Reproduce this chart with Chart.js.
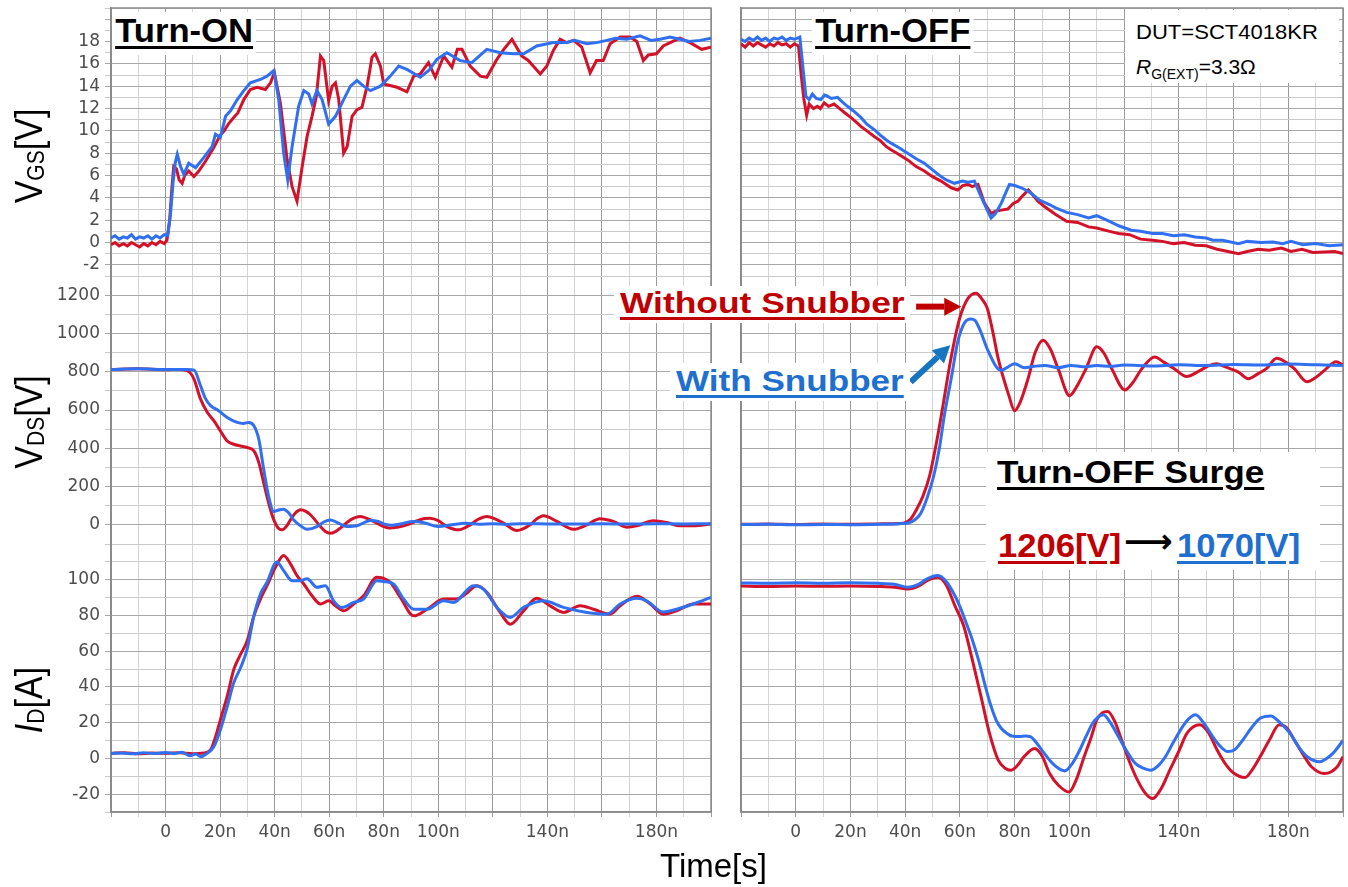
<!DOCTYPE html>
<html lang="en">
<head>
<meta charset="UTF-8">
<title>SCT4018KR switching waveforms, with and without snubber</title>
<script src="https://cdn.jsdelivr.net/npm/chart.js"></script>
<style>
  body { margin: 0; background: #fff; }
  #page { position: relative; width: 1348px; height: 887px; overflow: hidden;
          font-family: "Liberation Sans", Arial, sans-serif; color: #000; }
  .panel { position: absolute; top: 0; height: 887px; }
  #onBox { left: 0; width: 720px; }
  #offBox { left: 730px; width: 618px; }
  .lbl { position: absolute; white-space: nowrap; line-height: 1; }
  .bold { font-weight: bold; }
  .ul { text-decoration: underline; text-decoration-thickness: 2.5px; text-underline-offset: 4px; }
  .box { position: absolute; background: #fff; }
  .ytitle { position: absolute; font-size: 34px; line-height: 1; white-space: nowrap;
            transform: translate(-50%, -50%) rotate(-90deg) scaleY(1.15); }
  .sub { font-size: 0.62em; position: relative; top: 0.08em; }
  .red { color: #c00000; }
  .blue { color: #1f6fcf; }
</style>
</head>
<body>
<div id="page">
  <div class="panel" id="onBox"><canvas id="onChart"></canvas></div>
  <div class="panel" id="offBox"><canvas id="offChart"></canvas></div>

  <!-- axis titles -->
  <div class="ytitle" style="left:28px;top:156px">V<span class="sub">GS</span>[V]</div>
  <div class="ytitle" style="left:28px;top:422px">V<span class="sub">DS</span>[V]</div>
  <div class="ytitle" style="left:28px;top:700px"><i>I</i><span class="sub">D</span>[A]</div>
  <div class="lbl" style="left:660px;top:849px;font-size:33px">Time[s]</div>

  <!-- panel headers -->
  <div class="lbl bold ul" style="left:112px;top:12px;font-size:33px;background:#fff;padding:2px 3px 8px;transform:scaleX(1.05);transform-origin:left">Turn-ON</div>
  <div class="lbl bold ul" style="left:812px;top:12px;font-size:33px;background:#fff;padding:2px 3px 8px;transform:scaleX(1.05);transform-origin:left">Turn-OFF</div>

  <div class="box" style="left:1125px;top:10px;width:214px;height:73px"></div>
  <div class="lbl" style="left:1136px;top:21px;font-size:21px;transform:scaleX(1.05);transform-origin:left">DUT=SCT4018KR</div>
  <div class="lbl" style="left:1136px;top:56px;font-size:21px"><i>R</i><span style="font-size:14px;position:relative;top:5px">G(EXT)</span>=3.3Ω</div>

  <!-- series labels -->
  <div class="box" style="left:614px;top:286px;width:296px;height:37px"></div>
  <div class="lbl bold ul red" style="left:620px;top:289px;font-size:29px;transform:scaleX(1.22);transform-origin:left">Without Snubber</div>
  <div class="box" style="left:670px;top:363px;width:240px;height:38px"></div>
  <div class="lbl bold ul blue" style="left:676px;top:367px;font-size:29px;transform:scaleX(1.21);transform-origin:left">With Snubber</div>

  <!-- surge summary -->
  <div class="box" style="left:986px;top:452px;width:334px;height:118px"></div>
  <div class="lbl bold ul" style="left:997px;top:456px;font-size:32px;transform:scaleX(1.1);transform-origin:left">Turn-OFF Surge</div>
  <div class="lbl bold ul red" style="left:998px;top:529px;font-size:33px;transform:scaleX(1.05);transform-origin:left">1206[V]</div>
  <div class="lbl bold" style="left:1124px;top:524px;font-size:34px;font-family:'DejaVu Sans'">⟶</div>
  <div class="lbl bold ul blue" style="left:1177px;top:529px;font-size:33px;transform:scaleX(1.05);transform-origin:left">1070[V]</div>
</div>

<script>
const timeLabels = [0, 20, 40, 60, 80, 100, 140, 180];
const vgsLabels = [-2, 0, 2, 4, 6, 8, 10, 12, 14, 16, 18];
const vdsLabels = [0, 200, 400, 600, 800, 1000, 1200];
const idLabels = [-20, 0, 20, 40, 60, 80, 100];

// Turn-ON
const onVgsWithout = [[-20,-0.2],[-18.5,0.0],[-17,-0.3],[-15.5,-0.1],[-14,-0.3],[-12.5,0.0],[-11,-0.2],[-9.5,-0.4],[-8,-0.1],[-6.5,-0.3],[-5,0.0],[-3.5,-0.2],[-2,0.1],[-0.5,-0.1],[0.5,0.2],[1.5,2.0],[2.3,4.8],[3,6.8],[4,6.6],[5,5.6],[6.1,5.3],[7,6.0],[8.5,6.4],[10.4,5.9],[12.2,6.4],[14.7,7.3],[17.7,8.5],[20,9.6],[21.5,10.0],[23,10.6],[25,11.2],[26.5,11.6],[28.7,12.8],[31.1,13.7],[33.6,13.9],[36.6,13.7],[38.5,14.3],[39.9,15.2],[42.1,12.5],[44.6,7.4],[46.4,5.0],[48.2,3.7],[50.1,6.8],[51.9,9.5],[53.7,11.3],[55.3,13.1],[56.8,16.7],[58,16.3],[59.8,12.7],[61.1,14.0],[62.3,14.3],[63.5,12.8],[65.3,8.0],[66.6,8.6],[68.4,11.3],[70.2,11.9],[72,12.1],[73.9,14.0],[75.7,16.6],[76.9,16.9],[78.8,15.8],[80,14.2],[84.9,13.9],[88.5,13.5],[91,14.9],[93.4,15.1],[96.4,16.1],[98.9,14.8],[102,16.7],[105,15.7],[107,17.3],[108.7,17.3],[111.7,15.8],[115.4,14.9],[117.8,14.8],[121.5,16.4],[124,17.3],[127,18.2],[130.6,16.7],[133,16.3],[137.4,15.1],[139.8,15.8],[142.2,17.2],[144.7,18.2],[147,17.9],[149.6,18.1],[152.6,17.5],[155.7,15.2],[158,16.3],[160.5,16.3],[163,17.8],[166.7,18.4],[170.3,18.4],[172.8,18.0],[175.2,16.3],[177,16.8],[180,16.9],[182.5,17.6],[185,17.9],[188.6,18.3],[192.3,17.9],[196.6,17.3],[200,17.5]];
const onVgsWith = [[-20,0.4],[-18.5,0.6],[-17,0.3],[-15.5,0.5],[-14,0.4],[-12.5,0.7],[-11,0.3],[-9.5,0.5],[-8,0.4],[-6.5,0.6],[-5,0.3],[-3.5,0.6],[-2,0.4],[-0.5,0.7],[0.8,0.6],[1.8,2.5],[2.8,5.5],[3.6,7.2],[4.3,7.9],[5.5,6.8],[6.7,6.1],[8.5,7.1],[11,6.7],[14,7.6],[17.1,8.6],[18.3,9.7],[20.1,9.4],[22,11.3],[23.8,11.8],[26.3,12.8],[28.7,13.6],[31.1,14.3],[34.8,14.6],[37.2,14.9],[39.7,15.4],[41.5,12.8],[43.3,8.0],[44.8,5.6],[46.4,8.6],[48.8,12.2],[50.7,13.6],[52.5,13.3],[53.7,12.4],[55.5,13.6],[57.4,12.8],[59.8,10.6],[62.3,11.3],[65.3,12.8],[67.8,14.0],[70.2,14.5],[72.6,14.0],[75.1,13.6],[78.8,14.0],[82.4,14.9],[85.5,15.8],[88.5,15.5],[93.4,14.8],[96.5,15.4],[99.5,16.4],[103.2,17.0],[108,16.3],[112.3,16.1],[117.8,17.3],[122.7,17.0],[127.6,16.9],[131.3,16.9],[136.1,17.6],[142.2,17.9],[147.1,17.9],[150,18.1],[154.5,17.8],[158,17.9],[161.8,18.1],[165,18.3],[169.1,18.2],[174,18.5],[178,18.1],[181.3,18.2],[185,18.4],[188.6,18.2],[192,18.0],[196,18.1],[200,18.3]];
const onVdsWithout = [[-20,812],[-10,815],[0,810],[5,812],[8,805],[10.4,763],[12.8,658],[15.3,588],[17.7,544],[20.1,491],[22.6,438],[25,421],[27.5,412],[29.9,404],[32.4,386],[34.2,325],[36,219],[37.8,114],[39.7,26],[41.2,-15],[42.7,-26],[44.2,-10],[45.8,26],[47.6,62],[49.5,79],[51.3,72],[53.1,53],[56.8,-9],[58.6,-35],[60.4,-44],[62.3,-35],[64.1,-17],[67.8,26],[71.4,44],[75.1,26],[80,-9],[82.4,-17],[85,-12],[88.5,0],[92,20],[95,33],[97,35],[100,22],[103.2,-9],[107.4,-26],[111.7,0],[114.5,28],[117.8,44],[121,30],[124,9],[128.8,-30],[133.7,0],[136,30],[138.6,47],[143.5,18],[149.6,-23],[154.5,0],[159.3,32],[164.2,18],[169.1,-12],[172.8,-5],[178.9,21],[183.8,12],[188.6,-5],[193.5,-5],[200,5]];
const onVdsWith = [[-20,812],[-10,815],[0,812],[8,812],[10.5,808],[12.8,728],[14.7,658],[16.5,623],[19.5,596],[22.6,561],[26.3,535],[28.5,530],[30.5,535],[32.4,518],[34.2,447],[36,289],[37.8,149],[39.7,70],[41.5,78],[43.3,82],[45,65],[47,26],[49.5,-5],[51.9,-23],[55.5,-9],[58,15],[60.4,26],[63,12],[66.5,-9],[70.2,-5],[75.1,23],[78,18],[80,5],[83,-2],[86,5],[91,18],[95,10],[100,-9],[105,0],[110,8],[115,3],[120,6],[125,2],[130,6],[140,5],[150,4],[160,6],[170,4],[180,6],[190,5],[200,6]];
const onIdWithout = [[-20,2.8],[-15,3.2],[-10,2.6],[-5,3.0],[0,2.9],[5,3.1],[10,2.6],[14,3.0],[16.5,4.7],[18.3,12],[20.1,21.6],[22.6,34.7],[25,49.7],[27.5,58.2],[29.9,65.7],[32.4,79.8],[34.8,89.2],[37.2,96.7],[40.3,107],[43.3,113.6],[45.8,108.9],[48.2,102.3],[50.7,97.6],[53.7,91],[56.8,86.4],[59.8,88.2],[62.3,85.4],[65.3,82.6],[69,86.4],[72.6,91],[77.5,101.4],[79.5,101],[82.4,98.6],[86.1,90.1],[91,79.8],[95.9,83.5],[102,89.2],[106.8,89.2],[110,92],[114.2,96.7],[117.8,93],[122.7,81.7],[126.4,75.1],[131.3,82.6],[136.1,89.6],[141,85.4],[145.9,81.7],[152,85.4],[156.9,83.5],[163,80.7],[166.7,85.4],[172.8,90.7],[177.7,86.4],[182.5,80.7],[187.4,82.6],[193.5,86.4],[200,86.4]];
const onIdWith = [[-20,2.8],[-16,3.0],[-12,2.6],[-8,3.2],[-4,2.7],[0,3.3],[3,2.8],[6,3.4],[9,1.5],[11,2.4],[13,1.0],[15,2.6],[17.7,6.5],[20.1,16],[22.6,29],[25,42.3],[27.5,50.7],[29.9,61],[32.4,79.8],[34.8,92],[37.2,98.6],[40.8,109.9],[43.3,105.1],[46.4,99.5],[49.5,99.5],[51.9,100.5],[55.5,95.8],[58.6,96.7],[61.6,88.2],[64.7,84.5],[69,87.3],[72.6,89.2],[77.5,99.5],[80,99],[83.6,97.6],[87.3,89.2],[91,83.5],[95.9,83.5],[102,88.2],[105.6,87.3],[112.9,96.7],[116.6,94.8],[121.5,84.5],[126.4,78.9],[131.3,84.5],[138.6,88.2],[145.9,84.5],[154.5,81.7],[161.8,80.7],[166.7,86.4],[172.8,89.6],[176.4,88.2],[182.5,82],[187.4,83.5],[193.5,86.4],[200,90.1]];

// Turn-OFF
const offVgsWithout = [[-20,17.8],[-18.5,17.5],[-17,17.9],[-15.5,17.6],[-14,17.9],[-12.5,17.7],[-11,17.5],[-9.5,17.8],[-8,17.6],[-6.5,17.9],[-5,17.7],[-3.5,17.8],[-2,17.5],[-0.5,17.8],[1,17.6],[2,15],[3,12.8],[4,11.4],[4.9,12.4],[6.5,12.0],[7.9,12.2],[9,12.0],[10.4,12.5],[12,12.2],[14,12.4],[16.5,11.9],[18,11.6],[20.1,11.2],[22,10.8],[23.8,10.4],[26,10.0],[28.7,9.5],[31,9.1],[33,8.6],[34.8,8.3],[37,8.0],[40.9,7.4],[44,6.8],[47,6.4],[50,5.9],[53.1,5.5],[56.8,4.9],[59.2,4.7],[61,5.1],[62.9,5.2],[64.5,5.0],[66.6,5.2],[69,3.5],[71.4,2.6],[73,2.8],[75.1,2.9],[77.5,3.0],[79.5,3.5],[81.2,3.7],[83,4.2],[85,4.7],[86.5,4.3],[88.5,3.7],[91,3.2],[95,2.5],[99,1.9],[103,1.8],[107,1.4],[110,1.3],[114.7,1.0],[118,0.8],[122,0.7],[126,0.3],[130.4,0.2],[134,0.1],[138,-0.1],[142,0.0],[146,-0.25],[150,-0.3],[154,-0.6],[158,-0.8],[161.8,-1.0],[165,-0.8],[169,-0.6],[173,-0.7],[177.5,-0.5],[181,-0.8],[185,-0.6],[189,-0.9],[193,-0.85],[197,-0.8],[200,-1.0]];
const offVgsWith = [[-20,18.2],[-18.5,18.0],[-17,18.3],[-15.5,18.1],[-14,18.4],[-12.5,18.1],[-11,18.3],[-9.5,18.0],[-8,18.3],[-6.5,18.2],[-5,18.4],[-3.5,18.1],[-2,18.3],[-0.5,18.2],[1.5,18.4],[2.5,16],[3.7,13.1],[4.9,12.8],[6.1,13.3],[7.5,12.9],[9.2,12.8],[10.5,13.2],[11.6,13.1],[13,12.9],[15.3,13.0],[17,12.6],[18.9,12.2],[21,11.8],[23.8,11.2],[26,10.6],[28.7,10.1],[31,9.6],[33,9.2],[34.8,8.9],[37,8.6],[40.9,8.0],[44,7.5],[47,7.1],[50,6.5],[53.1,5.9],[55,5.6],[58,5.3],[61,5.5],[63,5.4],[65.3,5.5],[67.2,4.4],[70.2,2.8],[71.4,2.2],[73,2.6],[75.1,3.5],[77,4.6],[78.1,5.2],[80,5.1],[82.4,4.9],[84,4.7],[86.1,4.4],[89.1,3.8],[92.7,3.4],[95,3.1],[99,2.7],[103,2.5],[107,2.2],[110,2.4],[114.7,1.9],[118,1.5],[122.6,1.1],[126,1.0],[130.4,0.8],[134,0.8],[138,0.6],[142,0.7],[146,0.5],[150,0.4],[152.4,0.2],[156,0.2],[161.8,-0.1],[165,0.1],[170,0.0],[174.4,0.05],[178,-0.1],[181,0.1],[185.4,-0.2],[190,-0.1],[195,-0.3],[200,-0.2]];
const offVdsWithout = [[-20,3],[-10,5],[0,2],[10,4],[20,3],[30,5],[35,6],[39.4,9],[42,30],[44.1,79],[46.5,150],[48.9,254],[51.3,420],[53.6,605],[56.7,868],[59.9,1079],[63,1184],[65.9,1210],[68,1180],[70,1132],[72,1010],[74,868],[77.9,675],[80,596],[82,640],[84.9,763],[87.5,900],[90.4,965],[93,920],[95.9,816],[100.1,675],[103,730],[106.1,816],[110,930],[112.5,900],[115.5,816],[120.3,705],[123,740],[126.5,816],[131.2,877],[134.5,850],[138.3,816],[142.9,775],[147,800],[150.8,830],[153.8,842],[157,825],[161.8,798],[165.4,763],[169,790],[172,816],[175.8,870],[179,850],[182.2,816],[186.8,748],[190,770],[193.2,807],[197.5,852],[200,835]];
const offVdsWith = [[-20,2],[-10,3],[0,0],[10,2],[20,1],[30,3],[38,6],[42.5,17],[45.7,61],[48,140],[50.4,254],[52.5,400],[54.3,570],[56.8,763],[59.2,956],[61.6,1053],[64,1075],[65.5,1068],[67.1,1026],[70.2,912],[73.3,825],[75.1,807],[77,820],[80,842],[83.6,821],[87,828],[91,833],[95.9,821],[100.7,833],[105,826],[110,832],[115,828],[120,835],[130,830],[140,836],[150,832],[160,838],[170,835],[180,840],[190,836],[200,833]];
const offIdWithout = [[-20,96.5],[-10,96.2],[0,96.5],[10,96.3],[20,96.5],[30,96.2],[36,95.8],[41,94.8],[45,96.5],[48,99.5],[52,101.4],[55,97],[58.2,85.4],[61.4,74.1],[64.5,55.4],[67.7,34.7],[70.8,14.1],[74,-1],[76.5,-5.5],[78.7,-6.6],[81,-4],[83.4,0.9],[87.3,5.6],[90,1.5],[92.8,-8.5],[96,-15],[99.9,-18.8],[102.5,-12],[105.4,0.9],[108,12],[110,21.6],[112,25.5],[114,26.3],[116.5,21],[119.5,8.5],[122,-2],[124.9,-12.2],[127.5,-19],[130.4,-22.5],[133.5,-17],[136.7,-6.6],[140,4],[143,14.1],[147.7,18.8],[151,14],[154,4.7],[157,-3],[160.3,-8.5],[164.2,-10.7],[167,-6],[169.7,0.9],[173,10],[176.7,18.8],[179.5,17],[182.2,10.3],[185.5,2],[188.5,-4.7],[193.2,-8.5],[197.9,-4.7],[200,1]];
const offIdWith = [[-20,98.2],[-10,98],[0,98.3],[10,98.1],[20,98.3],[30,98.0],[36,97.5],[41,95.8],[45,97.5],[48,100.5],[52,102.3],[55,99],[57.5,93],[59.9,85.4],[62,77],[64.5,66.6],[67,54],[69.3,40.3],[71,31],[73.2,21.6],[75,17],[77.1,14.1],[79,12.5],[81.8,12.2],[84,12.5],[85.7,12.2],[88.1,8.5],[90.5,3.5],[92.8,-1],[95.5,-5],[98.3,-7],[101,-3],[103.8,4.7],[106,12],[108.5,19.7],[110.5,23],[112.4,24.4],[115,20],[117.9,12.2],[121,4],[124.1,-2.8],[127,-5.5],[129.7,-6.6],[132.5,-4],[135.1,0.9],[138,9],[141.4,17.8],[143.5,22],[146.1,24.4],[149,20],[152.4,12.2],[155,7],[157.9,3.8],[160.5,5],[163.4,10.3],[166.5,17],[169.7,22.5],[173.6,23.8],[177,20],[180.6,14.1],[184,6],[186.9,0.9],[191.6,-1.9],[194,0],[196.3,2.8],[200,10]];

// arrows next to the series labels, in (ns, V) of the turn-off VDS axis
const arrowNotes = [
  { from: [44, 1140], to: [60.5, 1140], color: '#c00000' },
  { from: [42, 746], to: [56.5, 938], color: '#1775c0' }
];

const RED = '#d3122a';
const BLUE = '#2f6ff0';
const TICK_FONT = { family: 'DejaVu Sans', size: 17 };
const TICK_COLOR = '#4d4d4d';

Chart.defaults.font.family = 'DejaVu Sans';

const toPts = pairs => pairs.map(([x, y]) => ({ x, y }));

function traces(axis, without, withS, smooth) {
  const common = { yAxisID: axis, borderWidth: 3, pointRadius: 0, fill: false,
                   cubicInterpolationMode: smooth ? 'monotone' : 'default', tension: 0 };
  return [
    { ...common, label: 'Without Snubber', data: toPts(without), borderColor: RED, order: 1 },
    { ...common, label: 'With Snubber', data: toPts(withS), borderColor: BLUE, order: 0 }
  ];
}

function steps(min, max, step) {
  const out = [];
  for (let v = min; v <= max + 1e-9; v += step) out.push(Math.round(v * 1000) / 1000);
  return out;
}

function yAxis(min, max, step, labels, showLabels) {
  return {
    type: 'linear', position: 'left', stack: 'panel', stackWeight: 1,
    min, max,
    afterBuildTicks: s => { s.ticks = steps(min, max, step).map(v => ({ value: v })); },
    afterFit: s => { s.width = showLabels ? 111 : 11; s.paddingTop = 0; s.paddingBottom = 0; },
    ticks: {
      display: showLabels, autoSkip: false, padding: 5, font: TICK_FONT, color: TICK_COLOR,
      callback: v => labels.includes(v) ? String(v) : ''
    },
    grid: {
      color: c => labels.includes(c.tick.value) || c.tick.value % (2 * step) === 0 ? '#a8a8a8' : '#cacaca',
      drawTicks: showLabels, tickLength: 6, lineWidth: 1
    },
    border: { color: '#8a8a8a', width: 1.5 }
  };
}

const xAxis = {
  type: 'linear', min: -20, max: 200,
  afterBuildTicks: s => { s.ticks = steps(-20, 200, 10).map(v => ({ value: v })); },
  afterFit: s => { s.height = 75; s.paddingLeft = 0; s.paddingRight = 0; },
  ticks: {
    autoSkip: false, maxRotation: 0, padding: 5, font: TICK_FONT, color: TICK_COLOR,
    callback: v => timeLabels.includes(v) ? (v === 0 ? '0' : v + 'n') : ''
  },
  grid: { color: c => c.tick.value % 20 === 0 ? '#9a9a9a' : '#d4d4d4', tickLength: 5, lineWidth: 1 },
  border: { color: '#8a8a8a', width: 1.5 }
};

// grey frame round the plot area
const frame = {
  id: 'frame',
  beforeDatasetsDraw(chart) {
    const { ctx, chartArea: a } = chart;
    ctx.save();
    ctx.strokeStyle = '#8a8a8a';
    ctx.lineWidth = 1.5;
    ctx.strokeRect(a.left, a.top, a.width, a.height);
    ctx.restore();
  }
};

const arrows = {
  id: 'arrows',
  afterDatasetsDraw(chart) {
    const { ctx, scales } = chart;
    for (const n of arrowNotes) {
      const x0 = scales.x.getPixelForValue(n.from[0]), y0 = scales.yD.getPixelForValue(n.from[1]);
      const x1 = scales.x.getPixelForValue(n.to[0]), y1 = scales.yD.getPixelForValue(n.to[1]);
      const ang = Math.atan2(y1 - y0, x1 - x0);
      const head = 17, half = 9;
      const bx = x1 - head * Math.cos(ang), by = y1 - head * Math.sin(ang);
      ctx.save();
      ctx.strokeStyle = n.color;
      ctx.fillStyle = n.color;
      ctx.lineWidth = 6;
      ctx.beginPath(); ctx.moveTo(x0, y0); ctx.lineTo(bx, by); ctx.stroke();
      ctx.beginPath();
      ctx.moveTo(x1, y1);
      ctx.lineTo(bx + half * Math.sin(ang), by - half * Math.cos(ang));
      ctx.lineTo(bx - half * Math.sin(ang), by + half * Math.cos(ang));
      ctx.closePath(); ctx.fill();
      ctx.restore();
    }
  }
};

function makeChart(id, sets, showLabels, padRight, extra) {
  return new Chart(document.getElementById(id), {
    type: 'line',
    data: {
      datasets: [
        ...traces('yG', sets.vgs[0], sets.vgs[1], false),
        ...traces('yD', sets.vds[0], sets.vds[1], true),
        ...traces('yI', sets.id[0], sets.id[1], true)
      ]
    },
    options: {
      responsive: true, maintainAspectRatio: false, animation: false, devicePixelRatio: 1,
      layout: { padding: { top: 8, right: padRight, left: 0, bottom: 0 } },
      plugins: { legend: { display: false }, tooltip: { enabled: false } },
      scales: {
        x: xAxis,
        yI: yAxis(-30, 120, 10, idLabels, showLabels),
        yD: yAxis(-100, 1300, 100, vdsLabels, showLabels),
        yG: yAxis(-3, 21, 1, vgsLabels, showLabels)
      }
    },
    plugins: [frame, ...extra]
  });
}

makeChart('onChart', {
  vgs: [onVgsWithout, onVgsWith], vds: [onVdsWithout, onVdsWith], id: [onIdWithout, onIdWith]
}, true, 9, []);

makeChart('offChart', {
  vgs: [offVgsWithout, offVgsWith], vds: [offVdsWithout, offVdsWith], id: [offIdWithout, offIdWith]
}, false, 5, [arrows]);
</script>
</body>
</html>
